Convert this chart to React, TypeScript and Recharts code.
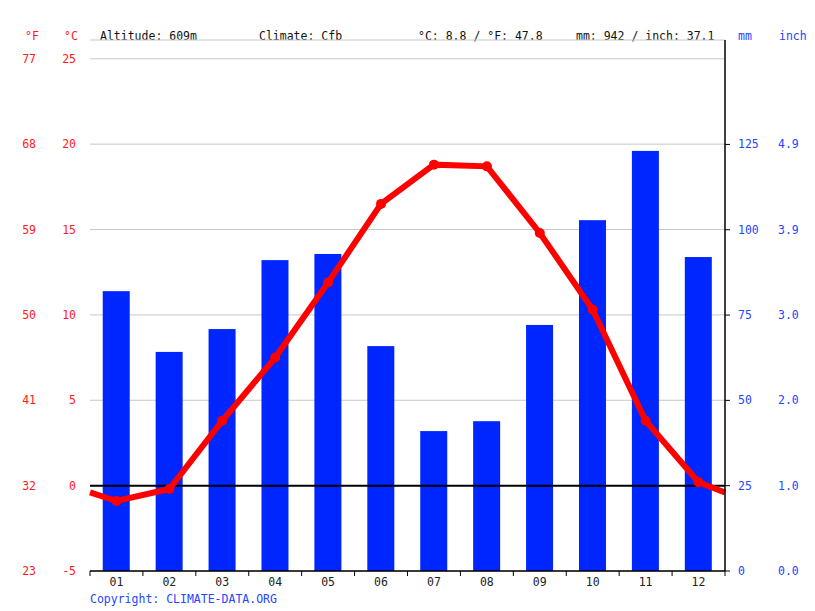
import React from 'react';
import {
  ComposedChart, Bar, Line, XAxis, YAxis, CartesianGrid, ReferenceLine
} from 'recharts';

// Monthly climate normals
const months = ['01', '02', '03', '04', '05', '06', '07', '08', '09', '10', '11', '12'];
const precipMm = [82.0, 64.2, 70.9, 91.1, 92.9, 65.9, 41.0, 43.9, 72.1, 102.8, 123.1, 92.0];
const tempC = [-0.9, -0.2, 3.8, 7.5, 11.9, 16.5, 18.8, 18.7, 14.8, 10.3, 3.8, 0.2];
// where the temperature curve meets the left and right plot edges
const tempEdgeC = [-0.4, -0.4];

const tempTicksC = [-5, 0, 5, 10, 15, 20, 25];
const tempTickLabelsF = ['23', '32', '41', '50', '59', '68', '77'];
const precipTicksMm = [0, 25, 50, 75, 100, 125];
const precipTickLabelsInch = ['0.0', '1.0', '2.0', '3.0', '3.9', '4.9'];

const FONT = '"DejaVu Sans Mono", monospace';
const RED = '#ff1a1a';
const BLUE = '#0026ff';
const BLUE_TEXT = '#2346ff';
const BAR_WIDTH = 27;

const barData = months.map((m, i) => ({ x: i + 1, month: m, precip: precipMm[i] }));

const lineData = [
  { x: 0.5, temp: tempEdgeC[0], edge: true },
  ...months.map((m, i) => ({ x: i + 1, temp: tempC[i] })),
  { x: 12.5, temp: tempEdgeC[1], edge: true },
];

const xTicks: number[] = [];
for (let i = 0; i <= 24; i++) xTicks.push(0.5 + i * 0.5);

const MonthTick = (props: any) => {
  const { x, y, payload } = props;
  const v = payload.value;
  if (Number.isInteger(v)) {
    return (
      <text x={x} y={y + 15} textAnchor="middle" fontFamily={FONT} fontSize={11.5} fill="#222">
        {months[v - 1]}
      </text>
    );
  }
  return <line x1={x} x2={x} y1={y} y2={y + 5} stroke="#000" strokeWidth={1} />;
};

const TempTick = (props: any) => {
  const { x, y, payload } = props;
  const idx = tempTicksC.indexOf(payload.value);
  return (
    <g fontFamily={FONT} fontSize={11.5} fill={RED}>
      <text x={x - 40} y={y + 4} textAnchor="end">{tempTickLabelsF[idx]}</text>
      <text x={x} y={y + 4} textAnchor="end">{payload.value}</text>
    </g>
  );
};

const PrecipTick = (props: any) => {
  const { x, y, payload } = props;
  const idx = precipTicksMm.indexOf(payload.value);
  return (
    <g fontFamily={FONT} fontSize={11.5} fill={BLUE_TEXT}>
      <text x={x} y={y + 4} textAnchor="start">{payload.value}</text>
      <text x={x + 40} y={y + 4} textAnchor="start">{precipTickLabelsInch[idx]}</text>
    </g>
  );
};

// keep bars a fixed width, centred on the month
const PrecipBar = (props: any) => {
  const { x, y, width, height } = props;
  const cx = x + width / 2;
  return <rect x={cx - BAR_WIDTH / 2} y={y} width={BAR_WIDTH} height={height} fill={BLUE} />;
};

const TempDot = (props: any) => {
  const { cx, cy, payload, index } = props;
  if (payload.edge) return <g key={`d${index}`} />;
  return <circle key={`d${index}`} cx={cx} cy={cy} r={5} fill="#ff0000" />;
};

const headerStyle: React.CSSProperties = {
  position: 'absolute', top: 29, fontFamily: FONT, fontSize: 11.5, lineHeight: '14px',
  whiteSpace: 'pre', color: '#111',
};

export default function App() {
  return (
    <div style={{ position: 'absolute', left: 0, top: 0, width: 815, height: 611, background: '#fff' }}>
      <div style={{ ...headerStyle, left: 25, color: RED }}>°F</div>
      <div style={{ ...headerStyle, left: 64, color: RED }}>°C</div>
      <div style={{ ...headerStyle, left: 100 }}>Altitude: 609m</div>
      <div style={{ ...headerStyle, left: 259 }}>Climate: Cfb</div>
      <div style={{ ...headerStyle, left: 418 }}>°C: 8.8 / °F: 47.8</div>
      <div style={{ ...headerStyle, left: 576 }}>mm: 942 / inch: 37.1</div>
      <div style={{ ...headerStyle, left: 738, color: BLUE_TEXT }}>mm</div>
      <div style={{ ...headerStyle, left: 779, color: BLUE_TEXT }}>inch</div>

      <ComposedChart
        width={815}
        height={611}
        data={barData}
        margin={{ top: 40, right: 0, bottom: 10, left: 0 }}
      >
        <CartesianGrid yAxisId="c" vertical={false} stroke="#c8c8c8" />
        <XAxis
          dataKey="x"
          type="number"
          domain={[0.5, 12.5]}
          ticks={xTicks}
          interval={0}
          height={30}
          tickSize={0}
          tickMargin={0}
          tickLine={false}
          axisLine={{ stroke: '#000', strokeWidth: 1.5 }}
          tick={<MonthTick />}
        />
        <YAxis
          yAxisId="c"
          orientation="left"
          width={90}
          domain={[-5, 26.1]}
          ticks={tempTicksC}
          interval={0}
          axisLine={false}
          tickLine={false}
          tickSize={0}
          tickMargin={14}
          tick={<TempTick />}
        />
        <YAxis
          yAxisId="mm"
          orientation="right"
          width={90}
          domain={[0, 155.6]}
          ticks={precipTicksMm}
          interval={0}
          axisLine={{ stroke: '#000', strokeWidth: 1.5 }}
          tickLine={{ stroke: '#000' }}
          tickSize={5}
          tickMargin={8}
          tick={<PrecipTick />}
        />
        <Bar
          yAxisId="mm"
          dataKey="precip"
          fill={BLUE}
          barSize={20}
          shape={<PrecipBar />}
          isAnimationActive={false}
        />
        <ReferenceLine yAxisId="c" y={0} stroke="#000" strokeWidth={2} />
        <Line
          yAxisId="c"
          data={lineData}
          dataKey="temp"
          type="linear"
          stroke="#ff0000"
          strokeWidth={6}
          dot={TempDot}
          activeDot={false}
          isAnimationActive={false}
        />
      </ComposedChart>

      <div style={{ position: 'absolute', left: 90, top: 592, fontFamily: FONT, fontSize: 11.5, lineHeight: '14px', color: BLUE_TEXT }}>
        Copyright: CLIMATE-DATA.ORG
      </div>
    </div>
  );
}
